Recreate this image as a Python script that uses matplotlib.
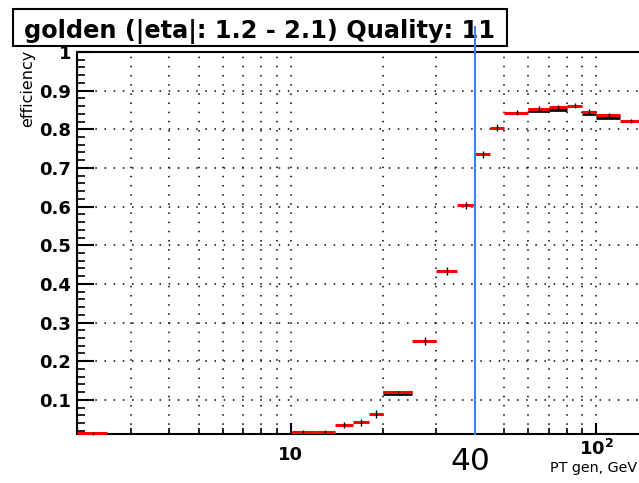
import numpy as np
import matplotlib
matplotlib.use("Agg")
import matplotlib.pyplot as plt
from matplotlib.patches import Rectangle
from matplotlib.lines import Line2D
from matplotlib import transforms
from matplotlib.ticker import FixedLocator, FixedFormatter, NullFormatter

plt.rcParams['font.family'] = 'DejaVu Sans'
plt.rcParams['mathtext.fontset'] = 'dejavusans'

# bins (low edge, high edge) and efficiency, red histogram
lo = [2.0, 10, 12, 14, 16, 18, 20, 25, 30, 35, 40, 45, 50, 60, 70, 80, 90, 100, 120]
hi = [2.5, 12, 14, 16, 18, 20, 25, 30, 35, 40, 45, 50, 60, 70, 80, 90, 100, 120, 140]
eff = [0.013, 0.017, 0.018, 0.035, 0.042, 0.063, 0.121, 0.252, 0.433, 0.603,
       0.735, 0.804, 0.843, 0.853, 0.857, 0.861, 0.846, 0.837, 0.821]
err = [0.003, 0.004, 0.005, 0.007, 0.009, 0.010, 0.003, 0.011, 0.011, 0.009,
       0.009, 0.009, 0.006, 0.006, 0.006, 0.006, 0.006, 0.006, 0.005]

# second (black) histogram, only where it shows under the red one
blk_lo = [20, 60, 70, 90, 100]
blk_hi = [25, 70, 80, 100, 120]
blk_eff = [0.117, 0.849, 0.852, 0.842, 0.832]

title = "golden (|eta|: 1.2 - 2.1) Quality: 11"
cut = 40

fig = plt.figure(figsize=(6.39, 4.83), dpi=100)
ax = fig.add_axes([77/639, 1-433.5/483, 1-77/639, (433.5-52)/483])
ax.set_xscale('log')
ax.set_xlim(2, 138)
ax.set_ylim(0.013, 1.0)

# grid
gridx = [3, 4, 5, 6, 7, 8, 9, 10, 20, 30, 40, 50, 60, 70, 80, 90, 100]
for gx in gridx:
    ax.axvline(gx, color='black', lw=1.1, ls=(0, (1, 5)), zorder=1)
for gy in np.arange(0.1, 0.95, 0.1):
    ax.axhline(gy, color='black', lw=1.1, ls=(0, (1, 5)), zorder=1)

# histograms
ax.hlines(blk_eff, blk_lo, blk_hi, color='black', lw=3.4, zorder=3)
ax.hlines(eff, lo, hi, color='red', lw=2.2, zorder=4, clip_on=False)
centers = [(a + b) / 2 for a, b in zip(lo, hi)]
ax.errorbar(centers, eff, yerr=err, fmt='none', ecolor='black', elinewidth=1.0,
            zorder=5, clip_on=False)

# axes style
for s in ['left', 'bottom', 'top']:
    ax.spines[s].set_linewidth(1.5)
ax.spines['right'].set_visible(False)

ax.yaxis.set_major_locator(FixedLocator(np.round(np.arange(0.1, 1.01, 0.1), 1)))
ax.yaxis.set_major_formatter(FixedFormatter(['0.1', '0.2', '0.3', '0.4', '0.5',
                                             '0.6', '0.7', '0.8', '0.9', '1']))
ax.yaxis.set_minor_locator(FixedLocator(np.arange(0.02, 1.0, 0.02)))
ax.tick_params(axis='y', which='major', direction='in', length=12, width=1.5,
               labelsize=13, pad=4)
ax.tick_params(axis='y', which='minor', direction='in', length=6, width=1.2)
for t in ax.get_yticklabels():
    t.set_fontweight('bold')

ax.xaxis.set_major_locator(FixedLocator([10, 100]))
ax.xaxis.set_major_formatter(FixedFormatter(['10', '']))
ax.xaxis.set_minor_locator(FixedLocator([3, 4, 5, 6, 7, 8, 9, 20, 30, 40, 50, 60, 70, 80, 90]))
ax.xaxis.set_minor_formatter(NullFormatter())
ax.tick_params(axis='x', which='major', direction='in', length=8, width=1.5,
               labelsize=13, pad=9)
ax.tick_params(axis='x', which='minor', direction='in', length=4, width=1.2)
for t in ax.get_xticklabels():
    t.set_fontweight('bold')

# 10^2 label sits a bit higher than "10" in the original
xblend = transforms.blended_transform_factory(ax.transData, fig.transFigure)
fig.text(100, 1-439/483, r'$\mathbf{10^{2}}$', transform=xblend, ha='center', va='top',
         fontsize=13)

# texts
fig.text(28/639, 1-50/483, 'efficiency', rotation=90, ha='center', va='top', fontsize=11.5)
fig.text(637/639, 1-468/483, 'PT gen, GeV', ha='right', va='center', fontsize=10.3)
fig.text(470/639, 1-462/483, str(cut), ha='center', va='center', fontsize=22.5)

# title box
fig.add_artist(Rectangle((13/639, 1-46/483), 494/639, 37/483, transform=fig.transFigure,
                         facecolor='white', edgecolor='black', lw=1.5, zorder=6))
fig.text(260/639, 1-31/483, title, ha='center', va='center', fontsize=17.3,
         fontweight='bold', zorder=7)

# blue marker line at the cut
fig.add_artist(Line2D([cut, cut], [1-433.5/483, 1-27/483], transform=xblend,
                      color='#3d80f0', lw=1.5, zorder=8))

fig.savefig('out.png', dpi=100)
